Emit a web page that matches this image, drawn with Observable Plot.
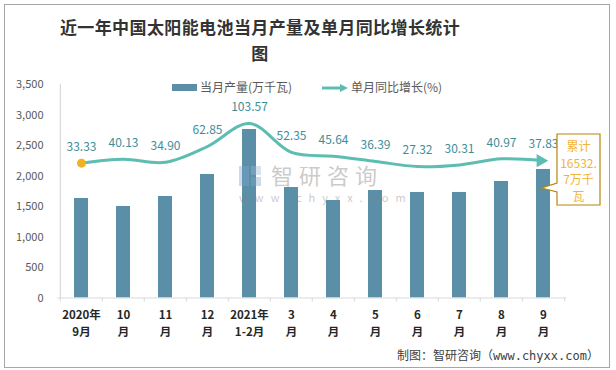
<!DOCTYPE html>
<html>
<head>
<meta charset="utf-8">
<script src="https://cdn.jsdelivr.net/npm/d3@7"></script>
<script src="https://cdn.jsdelivr.net/npm/@observablehq/plot@0.6"></script>
<style>
  html, body { margin: 0; padding: 0; background: #fff; }
  #wrap { position: relative; width: 616px; height: 370px; overflow: hidden; font-family: "Noto Sans CJK SC", sans-serif; }
  #border { position: absolute; left: 4px; top: 4px; width: 604px; height: 362px; border: 1px solid #a6a6a6; pointer-events: none; }
  #title { position: absolute; left: 20px; top: 14px; width: 480px; text-align: center; font-size: 17px; letter-spacing: 0.4px; line-height: 25.5px; font-weight: bold; color: #333; white-space: nowrap; }
  #chart { position: absolute; left: 0; top: 70px; }
  #caption { position: absolute; left: 397px; top: 346px; font-size: 12px; color: #404040; font-family: "DejaVu Sans Mono", "Noto Sans CJK SC", monospace; white-space: nowrap; }
  #overlay { position: absolute; left: 0; top: 0; pointer-events: none; }
</style>
</head>
<body>
<div id="wrap">
  <div id="title">近一年中国太阳能电池当月产量及单月同比增长统计<br>图</div>
  <div id="chart"></div>
  <div id="caption">制图：智研咨询（www.chyxx.com）</div>
  <svg id="overlay" width="616" height="370"></svg>
  <div id="border"></div>
</div>
<script>
// ---- data ----
const categories = ["2020年\n9月", "10\n月", "11\n月", "12\n月", "2021年\n1-2月", "3\n月", "4\n月", "5\n月", "6\n月", "7\n月", "8\n月", "9\n月"];
const output = [1631, 1500, 1664, 2025, 2762, 1811, 1598, 1762, 1730, 1730, 1910, 2107]; // 当月产量(万千瓦)
const growth = [33.33, 40.13, 34.90, 62.85, 103.57, 52.35, 45.64, 36.39, 27.32, 30.31, 40.97, 37.83]; // 单月同比增长(%)
const yTicks = [0, 500, 1000, 1500, 2000, 2500, 3000, 3500];
const yDomain = [0, 3500];
const y2Domain = [-205.3, 172.6]; // hidden secondary axis for growth
const seriesNames = ["当月产量(万千瓦)", "单月同比增长(%)"];
const cumulativeLines = ["累计", "16532.", "7万千", "瓦"];

const barColor = "#5b8fa7";
const lineColor = "#5dbdb3";
const labelColor = "#3d8e9b";
const firstDotColor = "#f2b11e";

const rows = categories.map((c, i) => ({cat: c, out: output[i], g: growth[i], i}));
const toLeft = v => (v - y2Domain[0]) / (y2Domain[1] - y2Domain[0]) * (yDomain[1] - yDomain[0]) + yDomain[0];

const W = 616, H = 275, mL = 57, mR = 50, mT = 14, mB = 47.5;
const step = (W - mL - mR) / categories.length;

const chart = Plot.plot({
  width: W, height: H,
  marginLeft: mL, marginRight: mR, marginTop: mT, marginBottom: mB,
  style: {fontFamily: "'Noto Sans CJK SC', sans-serif", fontSize: "11px", background: "transparent", overflow: "visible"},
  x: {type: "band", domain: categories, paddingInner: 0.67, paddingOuter: 0.335, label: null},
  y: {domain: yDomain, label: null},
  marks: [
    Plot.axisY({ticks: yTicks, tickFormat: d3.format(","), tickSize: 0, tickPadding: 14, fontSize: 11, fill: "#595959", label: null}),
    Plot.ruleX([categories[0]], {dx: -step / 2, stroke: "#d0d0d0"}),
    Plot.barY(rows, {x: "cat", y: "out", fill: barColor}),
    Plot.ruleY([0], {stroke: "#d9d9d9"}),
    Plot.axisX({tickSize: 4, tickFormat: () => "", dx: -step / 2, stroke: "#d9d9d9", label: null}),
    Plot.axisX([categories[categories.length - 1]], {tickSize: 4, tickFormat: () => "", dx: step / 2, stroke: "#d9d9d9", label: null}),
    Plot.axisX({tickSize: 0, tickPadding: 9, fontSize: 11.5, fontWeight: "bold", fill: "#262626", lineHeight: 1.45, label: null}),
    Plot.line(rows, {x: "cat", y: d => toLeft(d.g), stroke: lineColor, strokeWidth: 3, curve: "catmull-rom"}),
    Plot.dot(rows.slice(-1), {x: "cat", y: d => toLeft(d.g), symbol: "triangle", r: 5, rotate: 90, fill: lineColor, dx: -3}),
    Plot.dot(rows.slice(0, 1), {x: "cat", y: d => toLeft(d.g), r: 4.5, fill: firstDotColor}),
    Plot.text(rows, {x: "cat", y: d => toLeft(d.g), text: d => d3.format(".2f")(d.g), dy: -16, fill: labelColor, fontSize: 12})
  ]
});
document.getElementById("chart").appendChild(chart);

// ---- overlay: legend, watermark, annotation ----
const ov = d3.select("#overlay");
const offY = 70;
// legend
const lg = ov.append("g").attr("font-family", "'Noto Sans CJK SC', sans-serif").attr("font-size", 12).attr("fill", "#595959");
lg.append("rect").attr("x", 172).attr("y", 84).attr("width", 25).attr("height", 7).attr("fill", barColor);
lg.append("text").attr("x", 200).attr("y", 88).attr("dy", "0.35em").text(seriesNames[0]);
lg.append("line").attr("x1", 322).attr("x2", 342).attr("y1", 88).attr("y2", 88).attr("stroke", lineColor).attr("stroke-width", 3);
lg.append("path").attr("d", "M340,84L348,88L340,92Z").attr("fill", lineColor);
lg.append("text").attr("x", 351).attr("y", 88).attr("dy", "0.35em").text(seriesNames[1]);

// watermark
const wm = ov.append("g").attr("opacity", 0.4);
wm.append("rect").attr("x", 239).attr("y", 166).attr("width", 10).attr("height", 20).attr("fill", "#7fa6cf");
wm.append("rect").attr("x", 251).attr("y", 166).attr("width", 10).attr("height", 9).attr("fill", "#9bb8d8");
wm.append("rect").attr("x", 251).attr("y", 177).attr("width", 10).attr("height", 9).attr("fill", "#7fa6cf");
wm.append("text").attr("x", 271).attr("y", 176).attr("dy", "0.35em").attr("font-size", 22).attr("letter-spacing", 6)
  .attr("fill", "#808080").attr("font-family", "'Noto Sans CJK SC', sans-serif").text("智研咨询");
wm.append("text").attr("x", 239).attr("y", 198).attr("dy", "0.35em").attr("font-size", 11).attr("letter-spacing", 7)
  .attr("fill", "#808080").attr("font-family", "'Noto Sans CJK SC', sans-serif").text("www.chyxx.com");

// annotation callout pointing at last bar
const xs = chart.scale("x"), ys = chart.scale("y");
const lastCat = categories[categories.length - 1];
const tipX = xs.apply(lastCat) + xs.bandwidth * 0.4;
const tipY = ys.apply(output[output.length - 1]) + offY + 19;
const bx0 = 557, bx1 = 600, by0 = 134, by1 = 205;
ov.append("path")
  .attr("d", `M${bx0},${by0}H${bx1}V${by1}H${bx0}V${tipY + 4}L${tipX},${tipY}L${bx0},${tipY - 5}Z`)
  .attr("fill", "#fff").attr("stroke", "#b8860b").attr("stroke-width", 1.2);
const at = ov.append("text").attr("font-family", "'Noto Sans CJK SC', sans-serif").attr("font-size", 12)
  .attr("fill", "#f2b33d").attr("text-anchor", "middle");
cumulativeLines.forEach((t, i) => at.append("tspan").attr("x", (bx0 + bx1) / 2).attr("y", 147 + i * 16.5).attr("dy", "0.35em").text(t));
</script>
</body>
</html>
